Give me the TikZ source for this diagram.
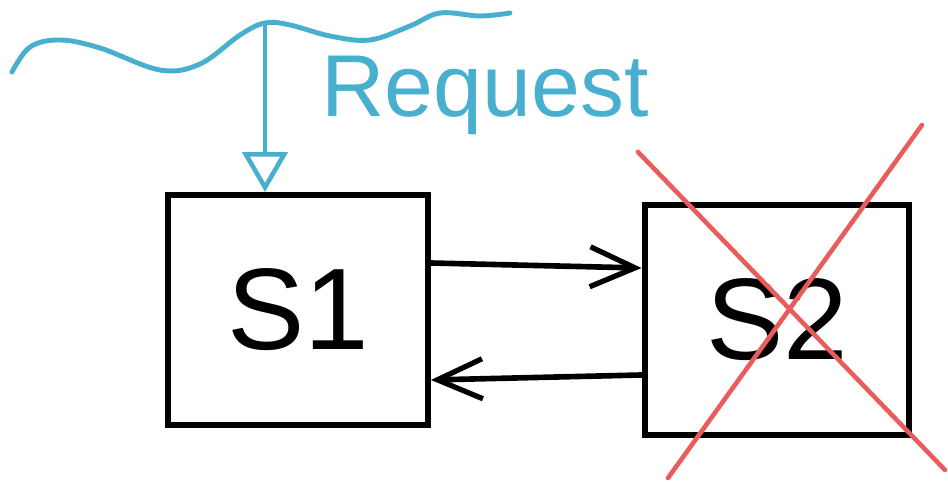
\documentclass[tikz,border=0pt]{standalone}
\usepackage{fontspec}
\setmainfont{Liberation Sans}
\usetikzlibrary{positioning,arrows.meta}
\definecolor{reqblue}{RGB}{72,176,206}
\definecolor{crossred}{RGB}{234,92,92}

\begin{document}
\begin{tikzpicture}[x=0.02cm, y=-0.02cm,
  server/.style={draw, line width=3.4pt, minimum width=5.2cm, minimum height=4.6cm,
                 font=\fontsize{66}{70}\selectfont},
  flow/.style={line width=3.2pt, line cap=round, -{Straight Barb[length=9mm,width=8mm,line width=3pt]}},
  ]
  \useasboundingbox (0,0) rectangle (948,482);
  % incoming request line
  \draw[reqblue, line width=2.8pt, line cap=round] plot[smooth, tension=0.6] coordinates
    {(12,72) (30,47) (60,40) (100,48) (160,70) (200,64) (240,35) (265,23)
     (290,25) (330,36) (370,40) (410,26) (440,13) (480,16) (510,13)};
  \coordinate (tap) at (265,25);
  \node[reqblue, font=\fontsize{50}{60}\selectfont] (req) at (485,95) {Request};
  % servers
  \node[server] (s1) at (298,310) {S1};
  \node[server, minimum width=5.3cm] (s2) at (777,320) {S2};
  \draw[reqblue, line width=2.8pt, line cap=round,
        -{Triangle[open,length=8mm,width=9mm,line width=2.6pt]}]
        (tap) -- (tap |- s1.north);
  \draw[flow] ([yshift=0.94cm]s1.east) -- ([yshift=1.04cm]s2.west);
  \draw[flow] ([yshift=-1.1cm]s2.west) -- ([yshift=-1.4cm]s1.east);
  % S2 is down
  \draw[crossred, line width=2.6pt, line cap=round] (638,152) -- (945,470);
  \draw[crossred, line width=2.6pt, line cap=round] (922,125) -- (668,478);
\end{tikzpicture}
\end{document}
